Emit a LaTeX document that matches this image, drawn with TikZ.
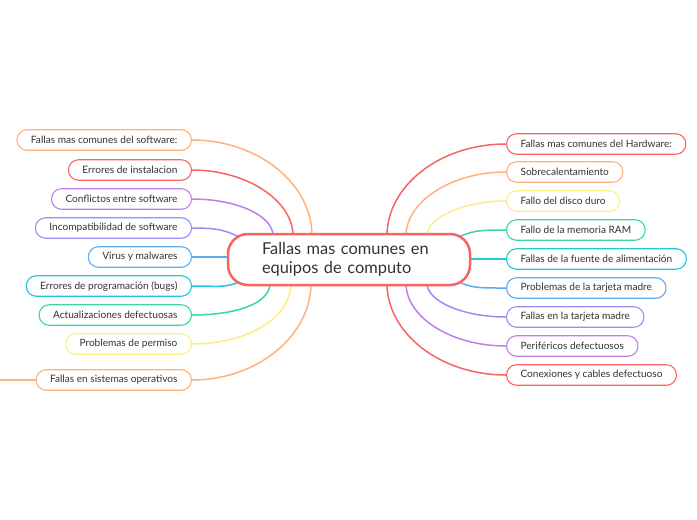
\documentclass[tikz,border=0pt]{standalone}
\usepackage{fontspec}
\setmainfont{Lato}
\usetikzlibrary{backgrounds,calc}
\definecolor{cred}{HTML}{F86464}
\definecolor{corange}{HTML}{FFB27F}
\definecolor{cyellow}{HTML}{FBEE84}
\definecolor{cgreen}{HTML}{3DD6A3}
\definecolor{ccyan}{HTML}{1FC8D6}
\definecolor{cblue}{HTML}{5AADF5}
\definecolor{clav}{HTML}{9A8DF3}
\definecolor{cpurple}{HTML}{C07EEA}
\definecolor{txt}{HTML}{333333}
\tikzset{
  leaf/.style={draw=#1, line width=1.1pt, rounded corners=10pt, fill=white,
    minimum height=20.5pt, inner xsep=14pt, inner ysep=0pt,
    font=\fontsize{10.1}{12}\selectfont, text=txt},
  conn/.style={draw=#1, line width=1.5pt},
  hub/.style={draw=cred, line width=2.5pt, rounded corners=20pt, fill=white,
    minimum width=242pt, minimum height=51pt, text width=174pt, align=left,
    inner xsep=34pt, inner ysep=4pt, font=\fontsize{16.4}{19.5}\selectfont, text=txt}
}
\begin{document}
\begin{tikzpicture}[x=1pt,y=-1pt]
\useasboundingbox (0,0) rectangle (697,520);

\node[hub] (c) at (349,259.5) {Fallas mas comunes en\\equipos de computo};

% left leaves
\node[leaf=corange, anchor=east] (L1) at (192,140) {Fallas mas comunes del software:};
\node[leaf=cred, anchor=east] (L2) at (192,170) {Errores de instalacion};
\node[leaf=cpurple, anchor=east] (L3) at (192,199) {Conflictos entre software};
\node[leaf=clav, anchor=east] (L4) at (192,228) {Incompatibilidad de software};
\node[leaf=cblue, anchor=east] (L5) at (192,257) {Virus y malwares};
\node[leaf=ccyan, anchor=east] (L6) at (192,286) {Errores de programación (bugs)};
\node[leaf=cgreen, anchor=east] (L7) at (192,315) {Actualizaciones defectuosas};
\node[leaf=cyellow, anchor=east] (L8) at (192,344) {Problemas de permiso};
\node[leaf=corange, anchor=east] (L9) at (192,380) {Fallas en sistemas operativos};
\coordinate (edge) at (0,380);

% right leaves
\node[leaf=cred, anchor=west] (R1) at (506,144) {Fallas mas comunes del Hardware:};
\node[leaf=corange, anchor=west] (R2) at (506,172) {Sobrecalentamiento};
\node[leaf=cyellow, anchor=west] (R3) at (506,201) {Fallo del disco duro};
\node[leaf=cgreen, anchor=west] (R4) at (506,230) {Fallo de la memoria RAM};
\node[leaf=ccyan, anchor=west] (R5) at (506,259) {Fallas de la fuente de alimentación};
\node[leaf=cblue, anchor=west] (R6) at (506,288) {Problemas de la tarjeta madre};
\node[leaf=clav, anchor=west] (R7) at (506,317) {Fallas en la tarjeta madre};
\node[leaf=cpurple, anchor=west] (R8) at (506,346) {Periféricos defectuosos};
\node[leaf=cred, anchor=west] (R9) at (506,375) {Conexiones y cables defectuoso};

\begin{pgfonlayer}{background}
\fill[white] (0,0) rectangle (697,520);
% left connectors
\draw[conn=corange] (L1.east) .. controls +(66,0) and +(0,-52) .. ([xshift=-37pt,yshift=-3pt]c.north);
\draw[conn=cred] (L2.east) .. controls +(55,0) and +(0,-35) .. ([xshift=-56pt,yshift=-3pt]c.north);
\draw[conn=cpurple] (L3.east) .. controls +(45,0) and +(0,-20) .. ([xshift=-76pt,yshift=-3pt]c.north);
\draw[conn=clav] (L4.east) .. controls +(28,0) and +(-16,-8) .. ([xshift=16pt,yshift=-6pt]c.north west);
\draw[conn=cblue] (L5.east) -- ([xshift=4pt]L5.east -| c.west);
\draw[conn=ccyan] (L6.east) .. controls +(28,0) and +(-16,8) .. ([xshift=16pt,yshift=6pt]c.south west);
\draw[conn=cgreen] (L7.east) .. controls +(45,0) and +(0,20) .. ([xshift=-79pt,yshift=3pt]c.south);
\draw[conn=cyellow] (L8.east) .. controls +(55,0) and +(0,35) .. ([xshift=-58pt,yshift=3pt]c.south);
\draw[conn=corange] (L9.east) .. controls +(66,0) and +(0,52) .. ([xshift=-38pt,yshift=3pt]c.south);
\draw[conn=corange] (L9.west) -- (edge);
% right connectors
\draw[conn=cred] ([xshift=38pt,yshift=-3pt]c.north) .. controls +(0,-50) and +(-66,0) .. (R1.west);
\draw[conn=corange] ([xshift=57pt,yshift=-3pt]c.north) .. controls +(0,-34) and +(-55,0) .. (R2.west);
\draw[conn=cyellow] ([xshift=78pt,yshift=-3pt]c.north) .. controls +(0,-18) and +(-43,0) .. (R3.west);
\draw[conn=cgreen] ([xshift=-16pt,yshift=-6pt]c.north east) .. controls +(16,-8) and +(-28,0) .. (R4.west);
\draw[conn=ccyan] ([xshift=-4pt]R5.west -| c.east) -- (R5.west);
\draw[conn=cblue] ([xshift=-16pt,yshift=6pt]c.south east) .. controls +(16,8) and +(-28,0) .. (R6.west);
\draw[conn=clav] ([xshift=78pt,yshift=3pt]c.south) .. controls +(0,18) and +(-43,0) .. (R7.west);
\draw[conn=cpurple] ([xshift=57pt,yshift=3pt]c.south) .. controls +(0,34) and +(-55,0) .. (R8.west);
\draw[conn=cred] ([xshift=38pt,yshift=3pt]c.south) .. controls +(0,50) and +(-66,0) .. (R9.west);
\end{pgfonlayer}
\end{tikzpicture}
\end{document}
